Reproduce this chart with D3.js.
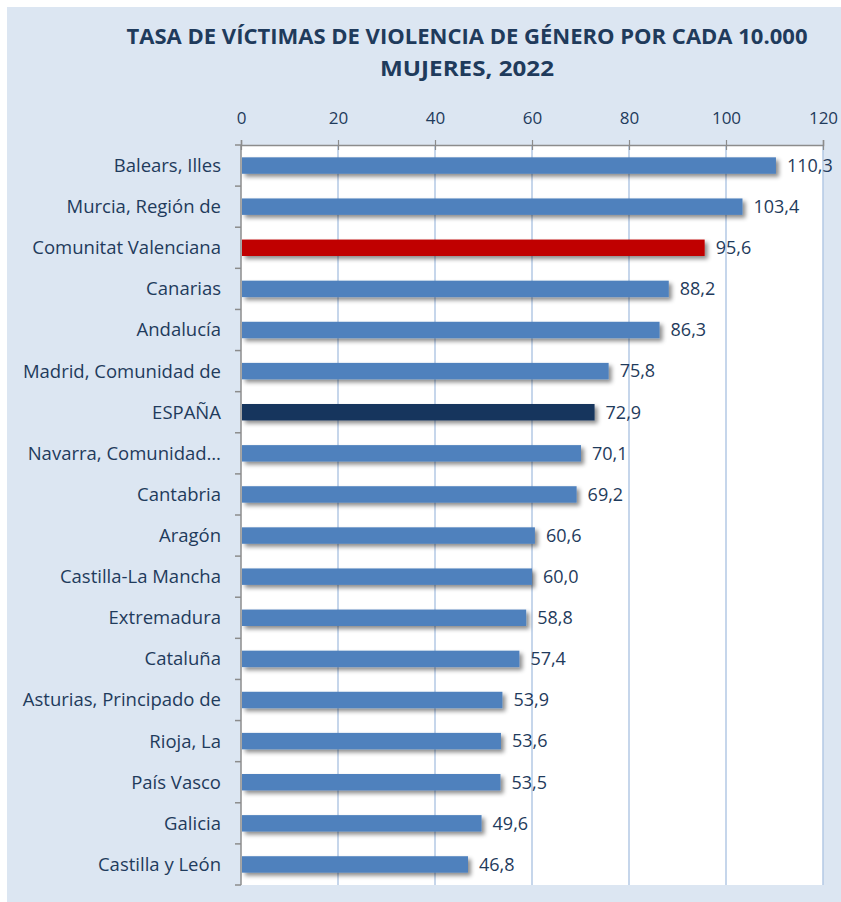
<!DOCTYPE html>
<html>
<head>
<meta charset="utf-8">
<script src="https://cdn.jsdelivr.net/npm/d3@7"></script>
<style>
  body { margin: 0; background: #fff; }
  svg text { font-family: "Open Sans", "Noto Sans", sans-serif; }
</style>
</head>
<body>
<div id="chart"></div>
<script>
// data
const regions = ["Balears, Illes", "Murcia, Región de", "Comunitat Valenciana", "Canarias",
  "Andalucía", "Madrid, Comunidad de", "ESPAÑA", "Navarra, Comunidad…", "Cantabria",
  "Aragón", "Castilla-La Mancha", "Extremadura", "Cataluña", "Asturias, Principado de",
  "Rioja, La", "País Vasco", "Galicia", "Castilla y León"];
const rates = [110.3, 103.4, 95.6, 88.2, 86.3, 75.8, 72.9, 70.1, 69.2, 60.6, 60.0, 58.8,
  57.4, 53.9, 53.6, 53.5, 49.6, 46.8];
const xTicks = [0, 20, 40, 60, 80, 100, 120];
const titleLines = ["TASA DE VÍCTIMAS DE VIOLENCIA DE GÉNERO POR CADA 10.000", "MUJERES, 2022"];

const data = regions.map((r, i) => ({ label: r, value: rates[i] }));

const W = 841, H = 902;
const plot = { left: 241, right: 823, top: 145, bottom: 885 };

const svg = d3.select("#chart").append("svg")
  .attr("width", W).attr("height", H);

const defs = svg.append("defs");
const shadow = defs.append("filter").attr("id", "shadow")
  .attr("x", "-5%").attr("y", "-50%").attr("width", "115%").attr("height", "220%");
shadow.append("feDropShadow")
  .attr("dx", 3).attr("dy", 3).attr("stdDeviation", 2)
  .attr("flood-color", "#000").attr("flood-opacity", 0.45);

// outer background
svg.append("rect").attr("x", 7).attr("y", 7).attr("width", W - 7).attr("height", H - 7)
  .attr("fill", "#dce6f2");

// title
svg.append("g").selectAll("text")
  .data(titleLines)
  .join("text")
  .attr("x", 467).attr("y", (d, i) => 44 + i * 32)
  .attr("text-anchor", "middle")
  .attr("font-size", 21).attr("font-weight", 700)
  .attr("fill", "#1f3b5c")
  .attr("textLength", (d, i) => i == 0 ? 681 : 174)
  .attr("lengthAdjust", "spacingAndGlyphs")
  .text(d => d);

// plot area
svg.append("rect")
  .attr("x", plot.left).attr("y", plot.top)
  .attr("width", plot.right - plot.left).attr("height", plot.bottom - plot.top)
  .attr("fill", "#fff");

var x = d3.scaleLinear().domain([0, 120]).range([plot.left, plot.right]);
var y = d3.scaleBand().domain(regions).range([plot.top, plot.bottom])
  .paddingInner(0.6).paddingOuter(0.3);
var yBand = d3.scaleBand().domain(regions).range([plot.top, plot.bottom]);

// gridlines
svg.append("g").selectAll("line")
  .data(xTicks.slice(1))
  .join("line")
  .attr("x1", d => x(d)).attr("x2", d => x(d))
  .attr("y1", plot.top).attr("y2", plot.bottom)
  .attr("stroke", "#b3c9e4").attr("stroke-width", 1.5);

// top axis (ticks cross the line)
var xAxis = svg.append("g")
  .attr("transform", "translate(0," + plot.top + ")")
  .call(d3.axisTop(x).tickValues(xTicks).tickSize(5).tickPadding(16));
xAxis.select(".domain").attr("stroke", "#8c8c8c").attr("stroke-width", 1.5);
xAxis.selectAll(".tick line").attr("y2", -5).attr("y1", 5)
  .attr("stroke", "#8c8c8c").attr("stroke-width", 1.2);
xAxis.selectAll(".tick text").attr("font-size", 17).attr("fill", "#1f3b5c");

// left axis: ticks between categories
var yAxisG = svg.append("g").attr("transform", "translate(" + plot.left + ",0)");
yAxisG.append("line")
  .attr("x1", 0).attr("x2", 0).attr("y1", plot.top).attr("y2", plot.bottom)
  .attr("stroke", "#8c8c8c").attr("stroke-width", 1.5);
yAxisG.selectAll(".sep")
  .data(regions.concat(["end"]))
  .join("line")
  .attr("class", "sep")
  .attr("x1", -6).attr("x2", 0)
  .attr("y1", (d, i) => i < regions.length ? yBand(d) : plot.bottom)
  .attr("y2", (d, i) => i < regions.length ? yBand(d) : plot.bottom)
  .attr("stroke", "#8c8c8c").attr("stroke-width", 1.5);

// category labels
svg.append("g").selectAll("text")
  .data(data)
  .join("text")
  .attr("x", 221)
  .attr("y", d => y(d.label) + y.bandwidth() / 2)
  .attr("dy", "0.35em")
  .attr("text-anchor", "end")
  .attr("font-size", 18.5)
  .attr("fill", "#1f3b5c")
  .text(d => d.label);

// bars
function barColor(d) {
  if (d.label == "Comunitat Valenciana") return "#c00000";
  if (d.label == "ESPAÑA") return "#17365d";
  return "#4f81bd";
}
svg.append("g").selectAll("rect")
  .data(data)
  .join("rect")
  .attr("x", x(0) + 1)
  .attr("y", d => y(d.label))
  .attr("width", d => x(d.value) - x(0) - 1)
  .attr("height", y.bandwidth())
  .attr("fill", barColor)
  .attr("filter", "url(#shadow)");

// value labels
svg.append("g").selectAll("text")
  .data(data)
  .join("text")
  .attr("x", d => x(d.value) + 11)
  .attr("y", d => y(d.label) + y.bandwidth() / 2)
  .attr("dy", "0.35em")
  .attr("font-size", 18)
  .attr("fill", "#1f3b5c")
  .text(d => d.value.toFixed(1).replace(".", ","));
</script>
</body>
</html>
